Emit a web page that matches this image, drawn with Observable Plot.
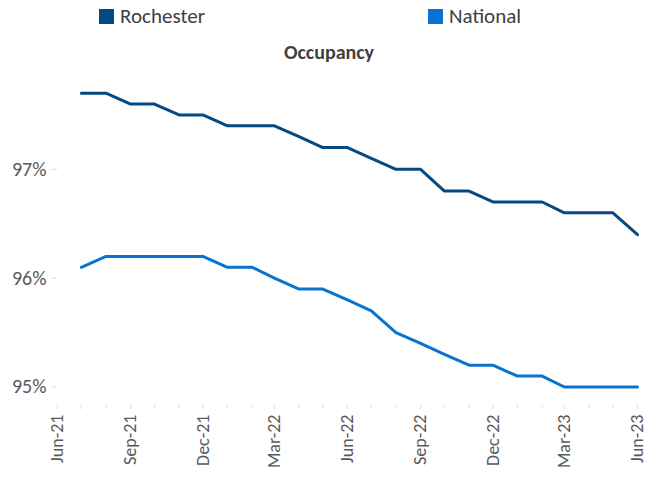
<!DOCTYPE html>
<html>
<head>
<meta charset="utf-8">
<script src="https://cdn.jsdelivr.net/npm/d3@7"></script>
<script src="https://cdn.jsdelivr.net/npm/@observablehq/plot@0.6"></script>
<style>
  html, body { margin: 0; padding: 0; background: #fff; }
  #wrap { position: relative; width: 647px; height: 478px; font-family: Carlito, Lato, "Open Sans", sans-serif; }
  #header { position: relative; height: 60px; }
  .lg { position: absolute; top: 3px; display: flex; align-items: center; font-size: 21px; color: #404040; }
  .sw { width: 15px; height: 15px; margin-right: 6px; }
  #title { position: absolute; top: 40px; left: 0; width: 658px; text-align: center; font-weight: bold; font-size: 20px; color: #404040; }
</style>
</head>
<body>
<div id="wrap">
  <div id="header"></div>
  <div id="chart"></div>
</div>
<script>
const months = ["2021-07","2021-08","2021-09","2021-10","2021-11","2021-12","2022-01","2022-02","2022-03","2022-04","2022-05","2022-06","2022-07","2022-08","2022-09","2022-10","2022-11","2022-12","2023-01","2023-02","2023-03","2023-04","2023-05","2023-06"];
const rochester = [97.7,97.7,97.6,97.6,97.5,97.5,97.4,97.4,97.4,97.3,97.2,97.2,97.1,97.0,97.0,96.8,96.8,96.7,96.7,96.7,96.6,96.6,96.6,96.4];
const national = [96.1,96.2,96.2,96.2,96.2,96.2,96.1,96.1,96.0,95.9,95.9,95.8,95.7,95.5,95.4,95.3,95.2,95.2,95.1,95.1,95.0,95.0,95.0,95.0];
const seriesNames = ["Rochester", "National"];
const seriesColors = ["#034a84", "#0a73cf"];
const yTicks = [95, 96, 97];
const titleText = "Occupancy";

const parse = d3.utcParse("%Y-%m");
const data = [];
months.forEach((m, i) => {
  data.push({date: parse(m), value: rochester[i], series: seriesNames[0]});
  data.push({date: parse(m), value: national[i], series: seriesNames[1]});
});

// header: legend + title
const header = document.getElementById("header");
const legendLefts = [99, 428];
seriesNames.forEach((n, i) => {
  const d = document.createElement("div");
  d.className = "lg";
  d.style.left = legendLefts[i] + "px";
  d.innerHTML = `<span class="sw" style="background:${seriesColors[i]}"></span><span>${n}</span>`;
  header.appendChild(d);
});
const t = document.createElement("div");
t.id = "title";
t.textContent = titleText;
header.appendChild(t);

const xStart = parse("2021-06");
const xEnd = parse("2023-06");
const quarterTicks = d3.utcMonth.range(xStart, d3.utcMonth.offset(xEnd, 1), 3);
const monthTicks = d3.utcMonth.range(xStart, d3.utcMonth.offset(xEnd, 1));
const fmt = d3.utcFormat("%b-%y");

const chart = Plot.plot({
  width: 647,
  height: 418,
  marginLeft: 57,
  marginRight: 10,
  marginTop: 0,
  marginBottom: 73,
  style: {fontFamily: "Carlito, Lato, 'Open Sans', sans-serif", background: "#fff"},
  x: {type: "utc", domain: [xStart, xEnd]},
  y: {domain: [94.83, 98]},
  color: {domain: seriesNames, range: seriesColors},
  marks: [
    Plot.axisY({ticks: yTicks, tickFormat: d => d + "%", tickSize: 5, tickPadding: 6, stroke: "#d9d9d9", color: "#595959", fontSize: 20, label: null}),
    Plot.axisX({ticks: monthTicks, tickSize: 4, text: null, stroke: "#d9d9d9", label: null}),
    Plot.axisX({ticks: quarterTicks, tickFormat: fmt, tickSize: 0, tickPadding: 9, tickRotate: -90, fill: "#595959", fontSize: 18, label: null}),
    Plot.line(data, {x: "date", y: "value", z: "series", stroke: "series", strokeWidth: 3, strokeLinejoin: "miter"})
  ]
});
document.getElementById("chart").appendChild(chart);
</script>
</body>
</html>
